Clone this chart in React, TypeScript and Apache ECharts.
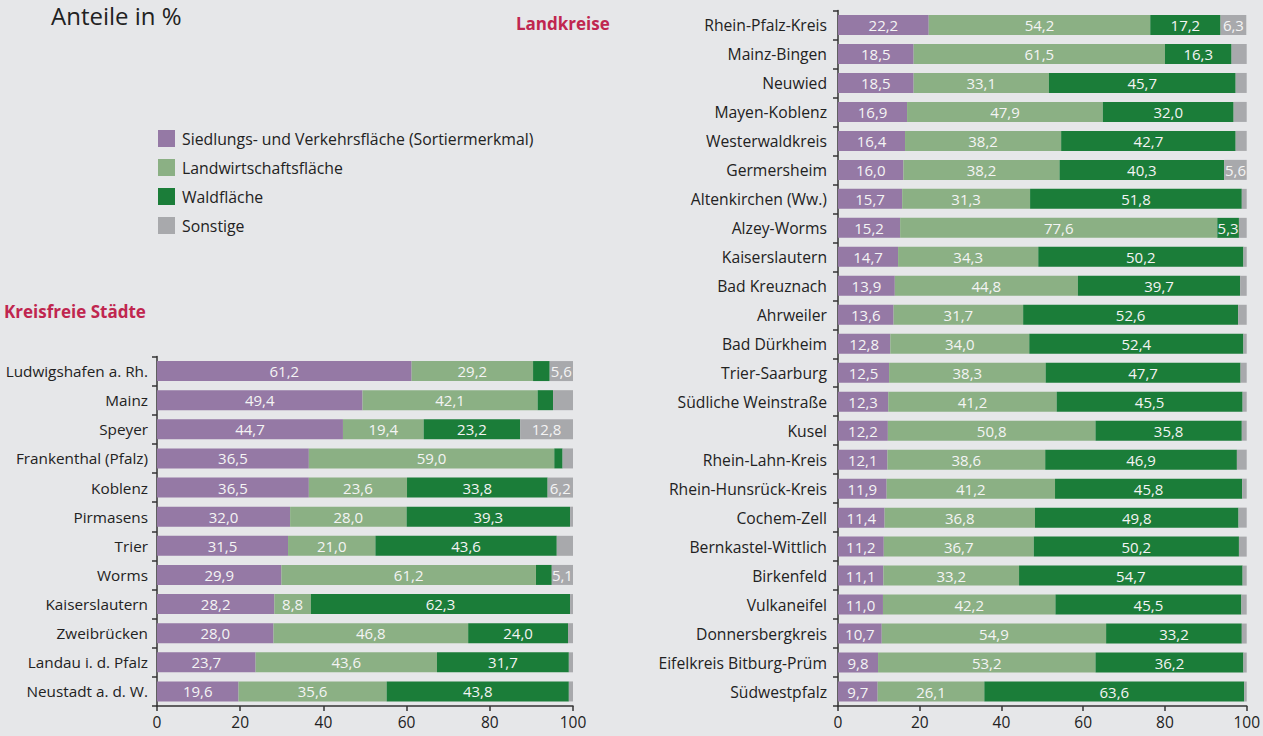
import React, { useEffect, useRef } from "react";
import * as echarts from "echarts";

const seriesNames = ["Siedlungs- und Verkehrsfläche (Sortiermerkmal)", "Landwirtschaftsfläche", "Waldfläche", "Sonstige"];
const colors = ["#9579a5", "#8bb084", "#1b7d39", "#a8a9ac"];

const cityNames = ["Ludwigshafen a. Rh.", "Mainz", "Speyer", "Frankenthal (Pfalz)", "Koblenz", "Pirmasens", "Trier", "Worms", "Kaiserslautern", "Zweibrücken", "Landau i. d. Pfalz", "Neustadt a. d. W."];
const citySiedlung = [61.2, 49.4, 44.7, 36.5, 36.5, 32.0, 31.5, 29.9, 28.2, 28.0, 23.7, 19.6];
const cityLandwirt = [29.2, 42.1, 19.4, 59.0, 23.6, 28.0, 21.0, 61.2, 8.8, 46.8, 43.6, 35.6];
const cityWald = [4.0, 3.7, 23.2, 2.0, 33.8, 39.3, 43.6, 3.8, 62.3, 24.0, 31.7, 43.8];
const citySonstige = [5.6, 4.8, 12.8, 2.5, 6.2, 0.7, 3.9, 5.1, 0.7, 1.2, 1.0, 1.0];

const kreisNames = ["Rhein-Pfalz-Kreis", "Mainz-Bingen", "Neuwied", "Mayen-Koblenz", "Westerwaldkreis", "Germersheim", "Altenkirchen (Ww.)", "Alzey-Worms", "Kaiserslautern", "Bad Kreuznach", "Ahrweiler", "Bad Dürkheim", "Trier-Saarburg", "Südliche Weinstraße", "Kusel", "Rhein-Lahn-Kreis", "Rhein-Hunsrück-Kreis", "Cochem-Zell", "Bernkastel-Wittlich", "Birkenfeld", "Vulkaneifel", "Donnersbergkreis", "Eifelkreis Bitburg-Prüm", "Südwestpfalz"];
const kreisSiedlung = [22.2, 18.5, 18.5, 16.9, 16.4, 16.0, 15.7, 15.2, 14.7, 13.9, 13.6, 12.8, 12.5, 12.3, 12.2, 12.1, 11.9, 11.4, 11.2, 11.1, 11.0, 10.7, 9.8, 9.7];
const kreisLandwirt = [54.2, 61.5, 33.1, 47.9, 38.2, 38.2, 31.3, 77.6, 34.3, 44.8, 31.7, 34.0, 38.3, 41.2, 50.8, 38.6, 41.2, 36.8, 36.7, 33.2, 42.2, 54.9, 53.2, 26.1];
const kreisWald = [17.2, 16.3, 45.7, 32.0, 42.7, 40.3, 51.8, 5.3, 50.2, 39.7, 52.6, 52.4, 47.7, 45.5, 35.8, 46.9, 45.8, 49.8, 50.2, 54.7, 45.5, 33.2, 36.2, 63.6];
const kreisSonstige = [6.3, 3.7, 2.7, 3.2, 2.7, 5.6, 1.2, 1.9, 0.8, 1.6, 2.1, 0.8, 1.5, 1.0, 1.2, 2.4, 1.1, 2.0, 1.9, 1.0, 1.3, 1.2, 0.8, 0.6];

const xTicks = [0, 20, 40, 60, 80, 100];

const FONT = "Open Sans";

export default function App() {
  const ref = useRef<HTMLDivElement>(null);
  useEffect(() => {
    document.body.style.margin = "0";
    const chart = echarts.init(ref.current!, null, { renderer: "svg" });
    const cityData = [citySiedlung, cityLandwirt, cityWald, citySonstige];
    const kreisData = [kreisSiedlung, kreisLandwirt, kreisWald, kreisSonstige];
    const label = {
      show: true,
      position: "inside" as const,
      color: "#f4f4f4",
      fontFamily: FONT,
      fontSize: 15,
      formatter: (p: any) => (p.value >= 5 ? p.value.toFixed(1).replace(".", ",") : ""),
    };
    const mkSeries = (data: number[][], idx: number) =>
      data.map((d, i) => ({
        name: seriesNames[i],
        type: "bar",
        stack: "s" + idx,
        xAxisIndex: idx,
        yAxisIndex: idx,
        barWidth: 20,
        data: d,
        itemStyle: { color: colors[i] },
        label,
        emphasis: { disabled: true },
      }));
    const xAxisBase = (gi: number) => ({
      type: "value",
      gridIndex: gi,
      min: 0,
      max: 100,
      interval: 20,
      splitLine: { show: false },
      axisLine: { show: true, lineStyle: { color: "#333", width: 1.5 } },
      axisTick: { show: true, length: 5, lineStyle: { color: "#333", width: 1.5 } },
      axisLabel: { color: "#222", fontSize: 15.5, fontFamily: FONT, margin: 8, formatter: (v: number) => (xTicks.includes(v) ? String(v) : "") },
    });
    const yAxisBase = (gi: number, names: string[], margin: number, size: number) => ({
      type: "category",
      gridIndex: gi,
      inverse: true,
      data: names,
      axisLine: { show: true, lineStyle: { color: "#333", width: 1.5 } },
      axisTick: { show: true, length: 5, lineStyle: { color: "#333", width: 1.5 } },
      axisLabel: { color: "#222", fontSize: size, fontFamily: FONT, margin },
    });
    chart.setOption({
      animation: false,
      backgroundColor: "#e6e7e9",
      title: [
        { text: "Anteile in %", left: 51, top: 3, padding: 0, textStyle: { fontSize: 24, fontWeight: "normal", color: "#222", fontFamily: FONT } },
        { text: "Landkreise", left: 516, top: 15, padding: 0, textStyle: { fontSize: 17, fontWeight: "bold", color: "#c0264f", fontFamily: FONT } },
        { text: "Kreisfreie Städte", left: 4, top: 303, padding: 0, textStyle: { fontSize: 17, fontWeight: "bold", color: "#c0264f", fontFamily: FONT } },
      ],
      legend: {
        data: seriesNames,
        orient: "vertical",
        left: 158,
        top: 130,
        padding: 0,
        itemWidth: 17,
        itemHeight: 17,
        itemGap: 12,
        icon: "rect",
        selectedMode: false,
        textStyle: { color: "#222", fontSize: 15.8, fontFamily: FONT, padding: [0, 0, 0, 2] },
      },
      grid: [
        { left: 157, width: 416, top: 356.5, height: 349.5, containLabel: false },
        { left: 838, width: 412, top: 10.5, height: 695.5, containLabel: false },
      ],
      xAxis: [xAxisBase(0), xAxisBase(1)],
      yAxis: [yAxisBase(0, cityNames, 9, 15.3), yAxisBase(1, kreisNames, 11, 15.7)],
      series: [...mkSeries(cityData, 0), ...mkSeries(kreisData, 1)],
    });
    return () => chart.dispose();
  }, []);
  return <div ref={ref} style={{ width: 1263, height: 736 }} />;
}
